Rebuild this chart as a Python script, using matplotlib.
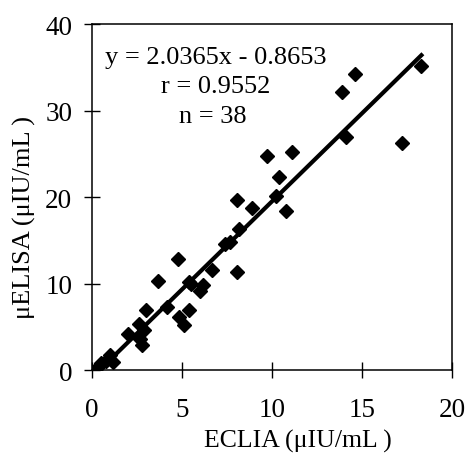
import numpy as np
import matplotlib.pyplot as plt

# ECLIA (x) vs uELISA (y)
eclia = [18.3, 14.6, 13.9, 14.1, 17.2, 11.1, 9.7, 10.4, 10.2, 8.05,
         8.9, 10.8, 8.2, 7.4, 7.7, 6.7, 8.05, 6.2, 6.0, 4.8,
         5.4, 3.7, 4.2, 5.4, 4.85, 5.1, 3.0, 2.6, 2.9, 2.0,
         2.7, 2.8, 1.0, 0.5, 1.2, 0.35, 0.8, 5.5]
uelisa = [35.1, 34.2, 32.2, 27.0, 26.2, 25.2, 24.8, 22.3, 20.1, 19.7,
          18.8, 18.4, 16.3, 14.6, 14.8, 11.6, 11.3, 9.9, 9.1, 12.9,
          10.2, 10.3, 7.3, 6.9, 6.1, 5.2, 6.9, 5.3, 4.6, 4.2,
          3.6, 2.9, 1.8, 0.8, 0.9, 0.4, 1.1, 10.0]

slope = 2.0365
intercept = -0.8653
stats_lines = ["y = 2.0365x - 0.8653", "r = 0.9552", "n = 38"]

plt.rcParams['font.family'] = ['Liberation Serif', 'DejaVu Serif']

fig = plt.figure(figsize=(4.66, 4.56), dpi=100)
ax = fig.add_axes([0.197, 0.186, 0.773, 0.759])

ax.plot(eclia, uelisa, linestyle='none', marker='D', markersize=7.5,
        color='black')
xs = np.array([min(eclia), max(eclia)])
ax.plot(xs, slope * xs + intercept, color='black', linewidth=3)

ax.set_xlim(0, 20)
ax.set_ylim(0, 40)
ax.set_xticks([0, 5, 10, 15, 20])
ax.set_yticks([0, 10, 20, 30, 40])
ax.tick_params(direction='inout', length=12, width=1, labelsize=19.5)
ax.tick_params(axis='x', pad=13)
ax.tick_params(axis='y', pad=8)
for s in ax.spines.values():
    s.set_linewidth(1.1)

ax.set_xlabel("ECLIA (μIU/mL )", fontsize=18.5, va='center')
ax.xaxis.set_label_coords(0.572, -0.203)
ax.set_ylabel("μELISA (μIU/mL )", fontsize=19, va='center')
ax.yaxis.set_label_coords(-0.186, 0.445)

# annotation block, each line centred
text_pos = [(6.9, 36.2), (6.9, 32.8), (6.7, 29.4)]
for (tx, ty), s in zip(text_pos, stats_lines):
    ax.text(tx, ty, s, ha='center', va='center', fontsize=19)

fig.savefig("out.png", dpi=100)
